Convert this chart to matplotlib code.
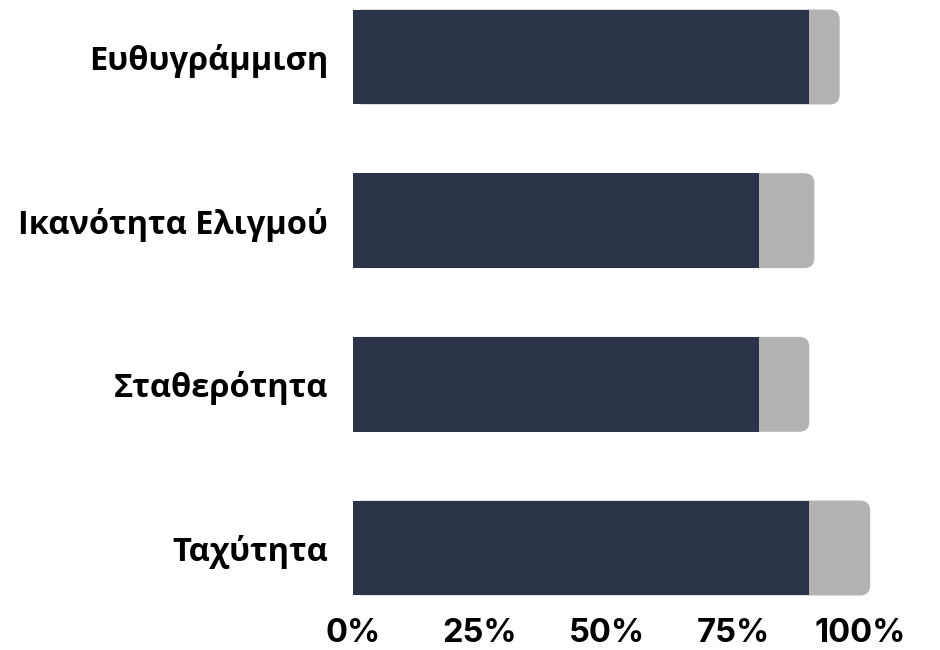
import matplotlib
matplotlib.use("Agg")
import matplotlib.pyplot as plt
from matplotlib.patches import FancyBboxPatch

categories = ["Ταχύτητα", "Σταθερότητα", "Ικανότητα Ελιγμού", "Ευθυγράμμιση"]
dark_values = [90, 80, 80, 90]
gray_values = [12, 10, 11, 6]
tick_values = [0, 25, 50, 75, 100]
tick_labels = ["0%", "25%", "50%", "75%", "100%"]

DARK = "#2a3347"
GRAY = "#b3b3b3"
plt.rcParams['font.family'] = ['Open Sans', 'DejaVu Sans']

fig = plt.figure(figsize=(9.4, 6.5), dpi=100)
W, H = 940, 650
left_px, right_px, top_px, bottom_px = 353, 900, 0, 605
ax = fig.add_axes([left_px / W, 1 - bottom_px / H, (right_px - left_px) / W, (bottom_px - top_px) / H])

px_per_x = 507 / 100.0
xmax = (right_px - left_px) / px_per_x
px_per_y = 163.7
ytop = 3 + 57 / px_per_y
ybot = 0 - (bottom_px - 548) / px_per_y
ax.set_xlim(0, xmax)
ax.set_ylim(ybot, ytop)

bar_h = 0.58
r_px = 10
rx = r_px / px_per_x
ry = r_px / px_per_y
for i, (d, g) in enumerate(zip(dark_values, gray_values)):
    total = d + g
    patch = FancyBboxPatch((0, i - bar_h / 2), total, bar_h,
                           boxstyle=f"round,pad=0,rounding_size={rx}",
                           mutation_aspect=ry / rx,
                           facecolor=GRAY, edgecolor="none", zorder=2)
    ax.add_patch(patch)
ax.barh(range(len(categories)), dark_values, height=bar_h, color=DARK, zorder=3)

ax.set_yticks(range(len(categories)))
ax.set_yticklabels(categories, fontsize=23.5, fontweight="bold")
ax.set_xticks(tick_values)
ax.set_xticklabels(tick_labels, fontsize=23.5, fontweight="bold", family=['Inter', 'DejaVu Sans'])
ax.tick_params(axis="y", length=0, pad=18)
ax.tick_params(axis="x", length=0, pad=9)
for s in ax.spines.values():
    s.set_visible(False)

fig.savefig("out.png", dpi=100)
